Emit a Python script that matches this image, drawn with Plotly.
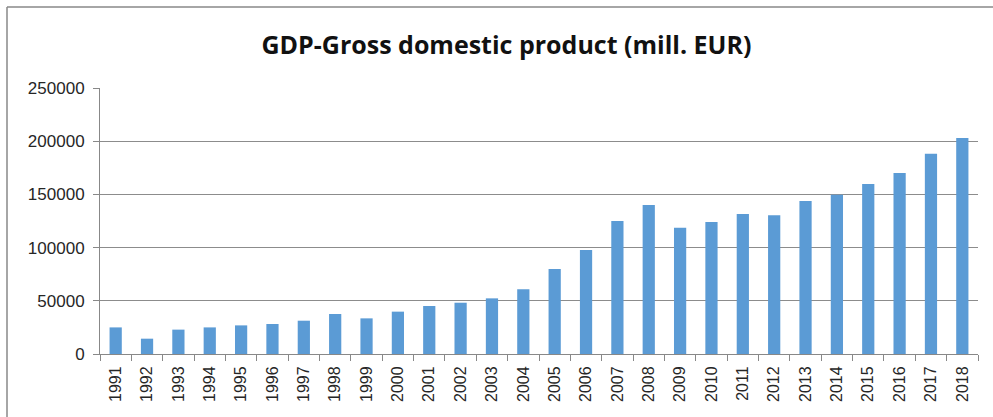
import plotly.graph_objects as go

years = [str(y) for y in range(1991, 2019)]
gdp = [25000, 14400, 22900, 25000, 26900, 28200, 31300, 37600, 33500, 39800,
       45100, 48200, 52300, 60800, 79900, 97700, 125000, 140000, 118700, 124100,
       131600, 130300, 143800, 149700, 159800, 170100, 188300, 203000]
y_ticks = [0, 50000, 100000, 150000, 200000, 250000]
title_text = "GDP-Gross domestic product (mill. EUR)"

W, H = 993, 417
ml, mr, mt, mb = 100, 15, 88, 63
pw, ph = W - ml - mr, H - mt - mb

fig = go.Figure(go.Bar(x=years, y=gdp, marker=dict(color="#5B9BD5", line=dict(width=0))))

fig.update_layout(
    width=W, height=H,
    margin=dict(l=ml, r=mr, t=mt, b=mb, pad=0),
    paper_bgcolor="white", plot_bgcolor="white",
    bargap=0.61,
    showlegend=False,
    font=dict(family="Liberation Sans, Arial, sans-serif", color="#262626", size=16),
    title=dict(text="<b>" + title_text + "</b>", x=0.51, xanchor="center",
               y=1 - 45 / H, yanchor="middle",
               font=dict(family="Open Sans, sans-serif", size=25, color="#111")),
)
fig.update_xaxes(type="category", tickangle=-90, showline=True, linecolor="#888", linewidth=1,
                 ticks="outside", tickson="boundaries", ticklen=6, tickcolor="#888",
                 ticklabelstandoff=5,
                 showgrid=False, tickfont=dict(size=16, color="#262626"))
fig.update_yaxes(range=[0, 250000], tickvals=y_ticks, ticktext=[str(v) for v in y_ticks],
                 showline=True, linecolor="#888", linewidth=1,
                 ticks="outside", ticklen=6, tickcolor="#888",
                 ticklabelstandoff=5,
                 showgrid=True, gridcolor="#8c8c8c", gridwidth=1, zeroline=False,
                 tickfont=dict(size=17, color="#262626"))

# chart frame (left and top edges visible)
x0 = (7 - ml) / pw
y0 = 1 + (mt - 7) / ph
fig.add_shape(type="line", xref="paper", yref="paper", x0=x0, x1=x0, y0=y0, y1=-1,
              line=dict(color="#888", width=1.5))
fig.add_shape(type="line", xref="paper", yref="paper", x0=x0, x1=2, y0=y0, y1=y0,
              line=dict(color="#888", width=1.5))

fig.write_html("out.html", config={"displayModeBar": False},
               post_script="document.body.style.margin='0';document.body.style.overflow='hidden';")
